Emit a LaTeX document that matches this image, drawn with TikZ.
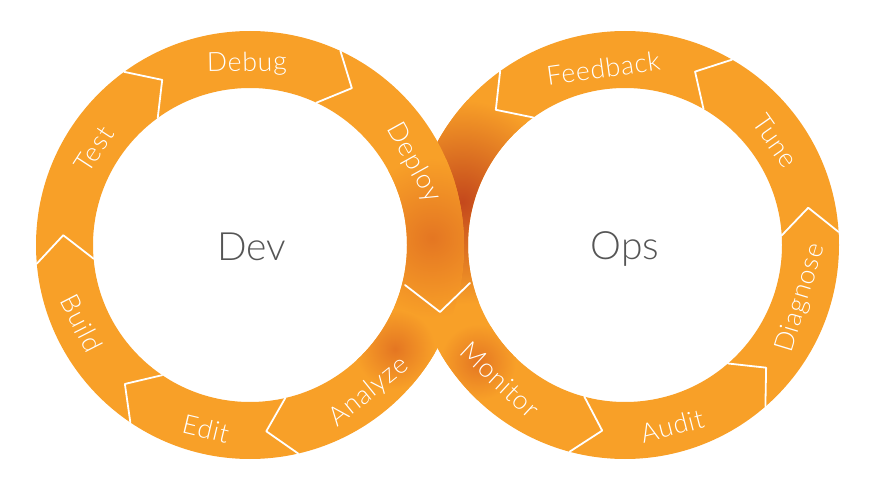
\documentclass[tikz,border=0pt]{standalone}
\usepackage{fontspec}
\IfFontExistsTF{Lato Light}
  {\setmainfont{Lato Light}\newfontfamily\lblfont{Lato Light}[LetterSpace=3]}
  {\setmainfont{Lato}\newfontfamily\lblfont{Lato}[LetterSpace=3]}
\usetikzlibrary{calc}
\definecolor{ring}{RGB}{248,160,40}
\definecolor{ringdark}{RGB}{196,72,28}
\definecolor{ringmid}{RGB}{228,118,34}
\definecolor{centertext}{RGB}{85,85,85}
\begin{document}
\begin{tikzpicture}[x=1pt,y=1pt,
  chev/.style={white, line width=1.8pt, line join=round, line cap=round},
  lbl/.style={text=white, font=\lblfont\fontsize{26.5}{26.5}\selectfont, inner sep=0pt},
  ctr/.style={text=centertext, font=\fontsize{39}{39}\selectfont, inner sep=0pt, anchor=base}]
\useasboundingbox (0,0) rectangle (871,496);
\coordinate (L) at (250,251);
\coordinate (R) at (625,251);
% right ring (underneath)
\fill[ring, even odd rule] (R) circle (214pt) (R) circle (157pt);
\begin{scope}[even odd rule]
  \clip (R) circle (214pt) (R) circle (157pt);
  \shade[inner color=ringdark, outer color=ring] (462,294) circle (102pt);
  \shade[inner color=ringmid, outer color=ring] (478,134) circle (38pt);
\end{scope}
% left ring (on top)
\fill[ring, even odd rule] (L) circle (214pt) (L) circle (157pt);
\begin{scope}[even odd rule]
  \clip (L) circle (214pt) (L) circle (157pt);
  \shade[inner color=ringmid, outer color=ring] (432,258) circle (80pt);
  \shade[inner color=ringmid, outer color=ring] (395,147) circle (40pt);
\end{scope}
% chevrons
\foreach \a in {283,236,185,126,65}
  \draw[chev] ($(L)+(\a:157pt)$) -- ($(L)+({\a-8}:187pt)$) -- ($(L)+(\a:214pt)$);
\foreach \a in {255,311,3.5,60,125.7}
  \draw[chev] ($(R)+(\a:157pt)$) -- ($(R)+({\a+8}:187pt)$) -- ($(R)+(\a:214pt)$);
\coordinate (vl) at (405,211);
\coordinate (vt) at (440,184);
\coordinate (vr) at (470,213);
\draw[chev] (vl) -- (vt) -- (vr);
% labels
\node[lbl, rotate=1] (debug) at ($(L)+(91:181pt)$) {Debug};
\node[lbl, rotate=57] (test) at ($(L)+(148.5:183pt)$) {Test};
\node[lbl, rotate=-63] (build) at ($(L)+(205:186pt)$) {Build};
\node[lbl, rotate=-13.5] (edit) at ($(L)+(256.5:189pt)$) {Edit};
\node[lbl, rotate=39] (analyze) at ($(L)+(309:189pt)$) {Analyze};
\node[lbl, rotate=-61] (deploy) at ($(L)+(26.7:183pt)$) {Deploy};
\node[lbl, rotate=8] (feedback) at ($(R)+(97:178pt)$) {Feedback};
\node[lbl, rotate=-55] (tune) at ($(R)+(34.6:183pt)$) {Tune};
\node[lbl, rotate=73.2] (diagnose) at ($(R)+(-16.8:184pt)$) {Diagnose};
\node[lbl, rotate=14.6] (audit) at ($(R)+(284.6:187pt)$) {Audit};
\node[lbl, rotate=-42.8] (monitor) at ($(R)+(227.2:184pt)$) {Monitor};
\node[ctr] (dev) at (252,235) {Dev};
\node[ctr] (ops) at (625,236) {Ops};
\end{tikzpicture}
\end{document}
